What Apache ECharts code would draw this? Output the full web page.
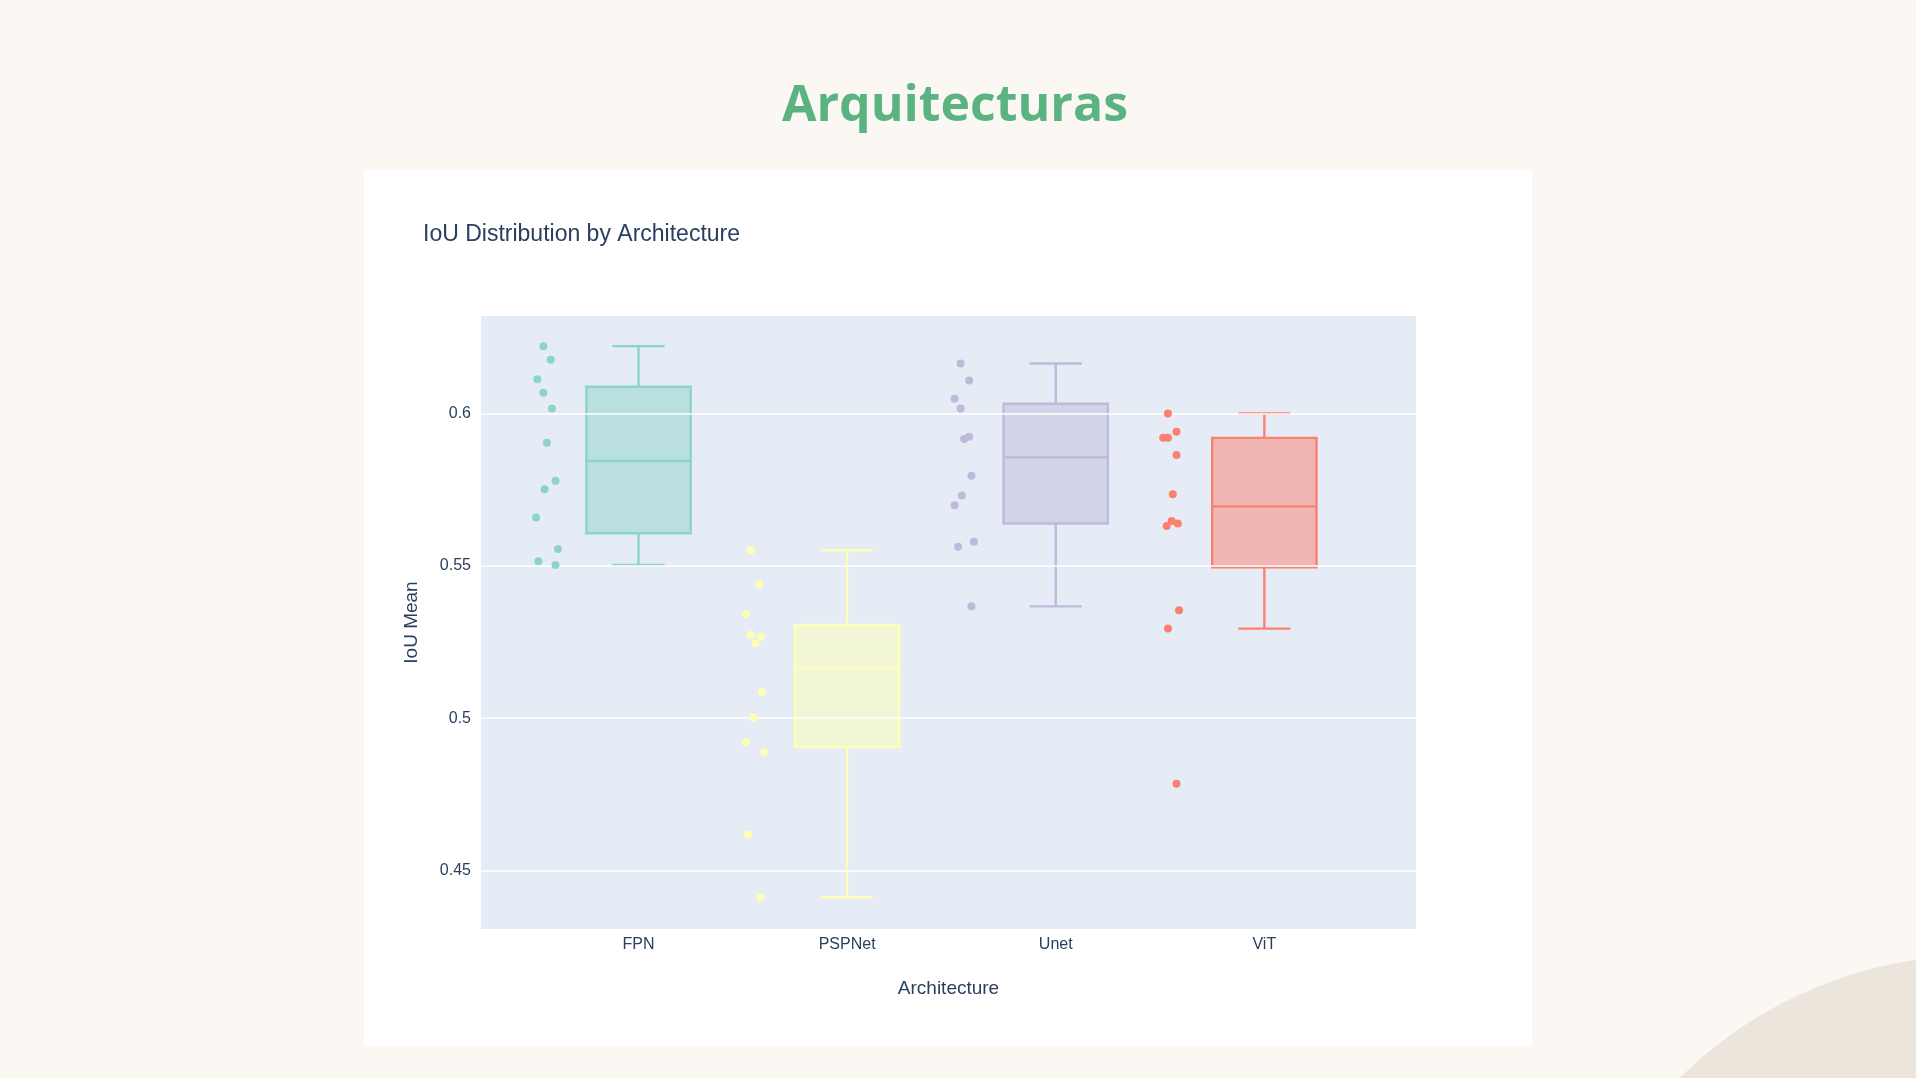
<!DOCTYPE html>
<html><head><meta charset="utf-8">
<script src="https://cdn.jsdelivr.net/npm/echarts@6/dist/echarts.min.js"></script>
<style>html,body{margin:0;padding:0;background:#fbf8f4;}#c{width:1916px;height:1078px;}</style>
</head><body><div id="c"></div>
<script>
const categories = ['FPN','PSPNet','Unet','ViT'];
const colors = ['#8dd3c7','#ffffb3','#bebada','#fb8072'];
const points = [
  [0.6221,0.6176,0.6112,0.6068,0.6016,0.5904,0.5779,0.5751,0.5659,0.5555,0.5515,0.5503],
  [0.5551,0.5439,0.5342,0.5274,0.5266,0.5246,0.5086,0.5002,0.4921,0.4889,0.4617,0.4412],
  [0.6164,0.6108,0.6048,0.6016,0.5924,0.5916,0.5796,0.5731,0.5699,0.5579,0.5563,0.5367],
  [0.6000,0.5940,0.5920,0.5920,0.5864,0.5735,0.5647,0.5639,0.5631,0.5354,0.5294,0.4785]
];
const jitter = [
  [-0.456,-0.421,-0.485,-0.456,-0.415,-0.439,-0.398,-0.450,-0.491,-0.386,-0.480,-0.398],
  [-0.462,-0.421,-0.485,-0.462,-0.415,-0.439,-0.409,-0.450,-0.485,-0.398,-0.474,-0.415],
  [-0.456,-0.415,-0.485,-0.456,-0.415,-0.439,-0.404,-0.450,-0.485,-0.392,-0.468,-0.404],
  [-0.462,-0.421,-0.485,-0.462,-0.421,-0.439,-0.444,-0.415,-0.468,-0.409,-0.462,-0.421]
];
// [lowerWhisker, q1, median, q3, upperWhisker]
const boxStats = [
  [0.5503,0.5607,0.5844,0.6088,0.6221],
  [0.4412,0.4905,0.5166,0.5306,0.5551],
  [0.5367,0.5639,0.5856,0.6032,0.6164],
  [0.5294,0.5495,0.5695,0.5920,0.6000]
];
const yTicks = [0.45,0.5,0.55,0.6];

const chart = echarts.init(document.getElementById('c'));
const series = [];
categories.forEach((cat,i)=>{
  series.push({
    type:'scatter', name:cat, symbolSize:8,
    itemStyle:{color:colors[i],opacity:1},
    data: points[i].map((v,k)=>[i+jitter[i][k], v]), z:5
  });
  series.push({
    type:'custom', name:cat+'_box', z:4,
    data:[[i].concat(boxStats[i])],
    renderItem:(params,api)=>{
      const x=api.value(0);
      const hw=0.25, cw=0.125;
      const p=k=>api.coord([x,api.value(k)]);
      const L=api.coord([x-hw,0])[0], R=api.coord([x+hw,0])[0];
      const cl=api.coord([x-cw,0])[0], cr=api.coord([x+cw,0])[0];
      const cx=p(1)[0];
      const ylo=p(1)[1], yq1=p(2)[1], ym=p(3)[1], yq3=p(4)[1], yhi=p(5)[1];
      const st={stroke:colors[i],lineWidth:2.4,fill:null};
      return {type:'group',children:[
        {type:'rect',shape:{x:L,y:yq3,width:R-L,height:yq1-yq3},style:{fill:colors[i],opacity:0.5}},
        {type:'rect',shape:{x:L,y:yq3,width:R-L,height:yq1-yq3},style:st},
        {type:'line',shape:{x1:L,y1:ym,x2:R,y2:ym},style:st},
        {type:'line',shape:{x1:cx,y1:yq3,x2:cx,y2:yhi},style:st},
        {type:'line',shape:{x1:cx,y1:yq1,x2:cx,y2:ylo},style:st},
        {type:'line',shape:{x1:cl,y1:yhi,x2:cr,y2:yhi},style:st},
        {type:'line',shape:{x1:cl,y1:ylo,x2:cr,y2:ylo},style:st}
      ]};
    }
  });
});
series.push({type:'scatter',data:[],silent:true,z:1,
  markLine:{silent:true,symbol:'none',label:{show:false},lineStyle:{color:'#ffffff',width:1.5,type:'solid'},
    data:yTicks.map(v=>({yAxis:v}))}});

chart.setOption({
  backgroundColor:'#fbf8f4',
  animation:false,
  graphic:[
    {type:'circle',shape:{cx:1979,cy:1381,r:426},style:{fill:'#ebe5dc'},z:-10},
    {type:'rect',shape:{x:364,y:170,width:1168,height:876},style:{fill:'#ffffff'},z:-5},
    {type:'rect',shape:{x:481,y:316,width:935,height:613},style:{fill:'#e5ecf6'},z:-4},
    {type:'text',x:955,y:107,style:{text:'Arquitecturas',fill:'#5cb382',font:'bold 50px "Open Sans", sans-serif',textAlign:'center',textVerticalAlign:'middle'}},
    {type:'text',x:423,y:235,style:{text:'IoU Distribution by Architecture',fill:'#2a3f5f',font:'23px "Liberation Sans", Arial, sans-serif',textAlign:'left',textVerticalAlign:'middle'}}
  ],
  grid:{left:481,top:316,width:935,height:613},
  xAxis:{type:'value',min:-0.755,max:3.727,
    name:'Architecture',nameLocation:'middle',nameGap:50,
    nameTextStyle:{color:'#2a3f5f',fontSize:19,fontFamily:'Liberation Sans'},
    axisLine:{show:false},axisTick:{show:false},splitLine:{show:false},
    axisLabel:{customValues:[0,1,2,3],formatter:v=>categories[Math.round(v)]||'',color:'#2a3f5f',fontSize:16,fontFamily:'Liberation Sans',margin:8}},
  yAxis:{type:'value',min:0.4308,max:0.632,
    name:'IoU Mean',nameLocation:'middle',nameGap:60,
    nameTextStyle:{color:'#2a3f5f',fontSize:19,fontFamily:'Liberation Sans'},
    axisLine:{show:false},axisTick:{show:false},splitLine:{show:false},
    axisLabel:{customValues:yTicks,formatter:v=>String(+v.toFixed(2)),color:'#2a3f5f',fontSize:16,fontFamily:'Liberation Sans',margin:10}},
  series
});
</script></body></html>
